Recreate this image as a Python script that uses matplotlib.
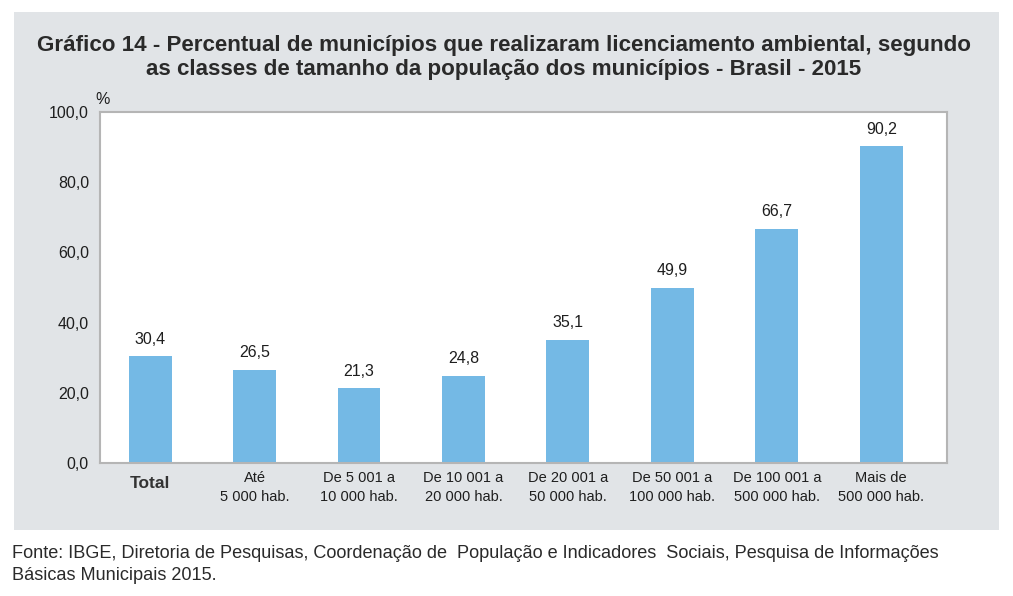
import matplotlib
matplotlib.use("Agg")
import matplotlib.pyplot as plt
from matplotlib.patches import Rectangle

categories = ["Total", "Até\n5 000 hab.", "De 5 001 a\n10 000 hab.", "De 10 001 a\n20 000 hab.",
              "De 20 001 a\n50 000 hab.", "De 50 001 a\n100 000 hab.", "De 100 001 a\n500 000 hab.",
              "Mais de\n500 000 hab."]
values = [30.4, 26.5, 21.3, 24.8, 35.1, 49.9, 66.7, 90.2]
yticks = [0, 20, 40, 60, 80, 100]
ytick_labels = ["0,0", "20,0", "40,0", "60,0", "80,0", "100,0"]

W, H = 1013, 596
fig = plt.figure(figsize=(W / 100, H / 100), dpi=100)
fig.patch.set_facecolor("white")
plt.rcParams['font.family'] = ['Liberation Sans', 'DejaVu Sans']

txt = "#1E1E1E"
panel_col = "#E1E4E7"
fig.add_artist(Rectangle((14 / W, 1 - 530 / H), 985 / W, 518 / H, transform=fig.transFigure,
                         facecolor=panel_col, edgecolor="none", zorder=0))

ax = fig.add_axes([100 / W, 1 - 463 / H, 847 / W, 351 / H])
ax.set_facecolor("white")
x = list(range(len(categories)))
ax.bar(x, values, width=0.41, color="#74B9E5", zorder=2)
ax.set_xlim(-0.48, 7.63)
ax.set_ylim(0, 100)
ax.set_yticks(yticks)
ax.set_yticklabels(ytick_labels, fontsize=11.5, color=txt)
ax.set_xticks(x)
ax.set_xticklabels([""] + categories[1:], fontsize=10.5, color=txt, linespacing=1.45)
ax.tick_params(axis="both", length=0)
ax.tick_params(axis="y", pad=8)
ax.tick_params(axis="x", pad=6)
for s in ax.spines.values():
    s.set_color("#B5B5B5")
    s.set_linewidth(1.5)

# first category label, larger and bold
ax.annotate(categories[0], (x[0], 0), xycoords=("data", "axes fraction"), xytext=(0, -15),
            textcoords="offset points", ha="center", va="center", fontsize=12.5,
            fontweight="bold", color="#333333")

for xi, v in zip(x, values):
    ax.annotate(f"{v:.1f}".replace(".", ","), (xi, v), xytext=(0, 7), textcoords="offset points",
                ha="center", va="bottom", fontsize=11.5, color=txt)

fig.text(103 / W, 1 - 100 / H, "%", fontsize=11.5, color=txt, ha="center", va="center")

fig.text(504 / W, 1 - 45 / H,
         "Gráfico 14 - Percentual de municípios que realizaram licenciamento ambiental, segundo",
         fontsize=16.1, fontweight="bold", color="#2A2A2A", ha="center", va="center")
fig.text(504 / W, 1 - 70 / H,
         "as classes de tamanho da população dos municípios - Brasil - 2015",
         fontsize=16.1, fontweight="bold", color="#2A2A2A", ha="center", va="center")

fig.text(12 / W, 1 - 553 / H,
         "Fonte: IBGE, Diretoria de Pesquisas, Coordenação de  População e Indicadores  Sociais, Pesquisa de Informações",
         fontsize=13.1, color="#2A2A2A", ha="left", va="center")
fig.text(12 / W, 1 - 575 / H, "Básicas Municipais 2015.",
         fontsize=13.1, color="#2A2A2A", ha="left", va="center")

fig.savefig("out.png", dpi=100)
